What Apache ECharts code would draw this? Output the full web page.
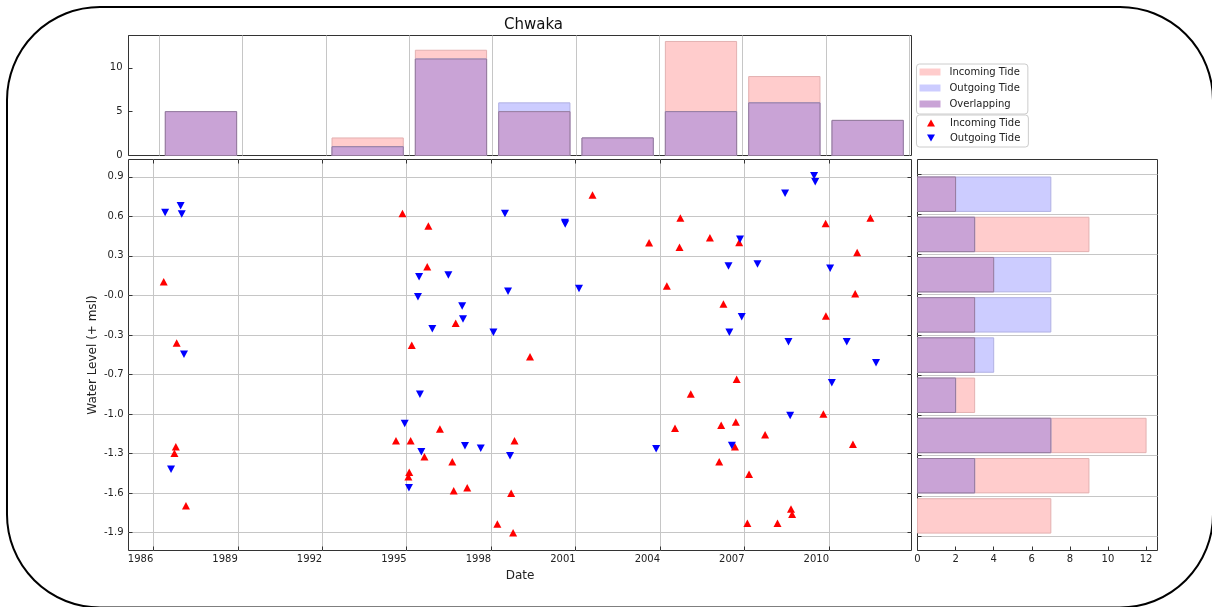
<!DOCTYPE html>
<html>
<head>
<meta charset="utf-8">
<script src="https://cdn.jsdelivr.net/npm/echarts@6/dist/echarts.min.js"></script>
<style>
html,body{margin:0;padding:0;background:#fff;}
#chart{width:1212px;height:607px;}
</style>
</head>
<body>
<div id="chart"></div>
<script>
// ---- data ----
// scatter points: [decimal year, water level]
const incomingTide = [
  [1986.37, 0.074], [1986.83, -0.408], [1986.80, -1.223], [1986.75, -1.275], [1987.16, -1.688],
  [1994.62, -1.176], [1994.85, 0.612],
  [1995.77, 0.512], [1995.73, 0.192], [1996.74, -0.253], [1995.18, -0.426], [1995.14, -1.176],
  [1996.18, -1.084], [1995.63, -1.302], [1995.09, -1.425], [1995.06, -1.459], [1996.62, -1.341],
  [1996.67, -1.569], [1997.15, -1.546],
  [1999.38, -0.516], [1998.22, -1.831], [1998.78, -1.900], [1998.71, -1.590], [1998.83, -1.176],
  [2001.60, 0.756], [2003.61, 0.381],
  [2004.72, 0.575], [2004.69, 0.345], [2005.77, 0.420], [2006.81, 0.384], [2004.24, 0.040],
  [2006.25, -0.101], [2006.72, -0.693], [2005.09, -0.809], [2004.53, -1.079], [2006.17, -1.055],
  [2006.69, -1.029], [2006.66, -1.223], [2006.10, -1.341],
  [2007.16, -1.441], [2007.73, -1.129], [2008.65, -1.713], [2008.69, -1.755], [2007.10, -1.826],
  [2008.17, -1.826], [2009.80, -0.966], [2009.89, -0.195], [2009.88, 0.533],
  [2011.47, 0.575], [2011.00, 0.305], [2010.93, -0.020], [2010.85, -1.205]
];
const outgoingTide = [
  [1986.42, 0.620], [1986.97, 0.672], [1987.01, 0.607], [1987.09, -0.497], [1986.63, -1.401],
  [1994.93, -1.040],
  [1995.44, 0.114], [1996.48, 0.127], [1995.40, -0.044], [1996.97, -0.117], [1997.00, -0.219],
  [1995.91, -0.295], [1995.47, -0.811], [1995.52, -1.263], [1997.07, -1.216], [1997.63, -1.236],
  [1995.08, -1.546],
  [1998.49, 0.612], [2000.62, 0.540], [2000.63, 0.528], [1998.60, 0.000], [1998.08, -0.324],
  [1998.67, -1.295],
  [2001.12, 0.022], [2003.86, -1.239],
  [2006.84, 0.408], [2006.43, 0.198], [2006.46, -0.324], [2006.55, -1.213], [2006.90, -0.201],
  [2007.46, 0.213], [2008.44, 0.770], [2009.47, 0.908], [2009.51, 0.861], [2008.56, -0.398],
  [2008.62, -0.978],
  [2010.04, 0.180], [2010.63, -0.398], [2011.67, -0.563], [2010.10, -0.720]
];

// histogram over date (top panel)
const timeBinEdges = [1986.213, 1989.173, 1992.133, 1995.093, 1998.053, 2001.013, 2003.973, 2006.933, 2009.893, 2012.853];
const incomingPerTimeBin = [5, 0, 2, 12, 5, 2, 13, 9, 4];
const outgoingPerTimeBin = [5, 0, 1, 11, 6, 2, 5, 6, 4];
const overlapPerTimeBin  = [5, 0, 1, 11, 5, 2, 5, 6, 4];

// histogram over water level (right panel), bins from low to high
const levelBinEdges = [-1.926, -1.6097, -1.2933, -0.977, -0.6607, -0.3443, -0.028, 0.2883, 0.6047, 0.921];
const incomingPerLevelBin = [7, 9, 12, 3, 3, 3, 4, 9, 2];
const outgoingPerLevelBin = [0, 3, 7, 2, 4, 7, 7, 3, 7];
const overlapPerLevelBin  = [0, 3, 7, 2, 3, 3, 4, 3, 2];

// tick values / labels
const yearTicks = [1986, 1989, 1992, 1995, 1998, 2001, 2004, 2007, 2010];
const levelTicks = [0.9, 0.5889, 0.2778, -0.0333, -0.3444, -0.6556, -0.9667, -1.2778, -1.5889, -1.9];
const levelTickLabels = ['0.9', '0.6', '0.3', '-0.0', '-0.3', '-0.7', '-1.0', '-1.3', '-1.6', '-1.9'];

// ---- styling ----
const FONT = 'DejaVu Sans';
const TXT = '#222';
const SPINE = '#333';
const GRIDC = '#c6c6c6';
const PINK = '#ffcccc', PINK_E = '#e3b1b1';
const BLUE = '#ccccff', BLUE_E = '#b1b1e3';
const PURP = '#c9a3d6', PURP_E = '#947a9c';
const RW = 0.855;

function toBins(edges, counts) {
  return counts.map((c, i) => [edges[i], edges[i + 1], c]);
}
function vHist(fill, stroke) {
  return function (params, api) {
    const a = api.value(0), b = api.value(1), c = api.value(2);
    if (!(c > 0)) return null;
    const pad = (b - a) * (1 - RW) / 2;
    const p0 = api.coord([a + pad, c]);
    const p1 = api.coord([b - pad, 0]);
    return { type: 'rect', shape: { x: p0[0], y: p0[1], width: p1[0] - p0[0], height: p1[1] - p0[1] },
      style: { fill: fill, stroke: stroke, lineWidth: 1 } };
  };
}
function hHist(fill, stroke) {
  return function (params, api) {
    const a = api.value(0), b = api.value(1), c = api.value(2);
    if (!(c > 0)) return null;
    const pad = (b - a) * (1 - RW) / 2;
    const p0 = api.coord([0, b - pad]);
    const p1 = api.coord([c, a + pad]);
    return { type: 'rect', shape: { x: p0[0], y: p0[1], width: p1[0] - p0[0], height: p1[1] - p0[1] },
      style: { fill: fill, stroke: stroke, lineWidth: 1 } };
  };
}
function levelLabel(v) {
  let best = 0, d = 1e9;
  levelTicks.forEach((t, i) => { if (Math.abs(t - v) < d) { d = Math.abs(t - v); best = i; } });
  return levelTickLabels[best];
}

const X_MIN = 1985.119, X_MAX = 2012.930;
const Y_MIN = -2.04, Y_MAX = 1.036;

const tickStyle = { show: true, inside: true, length: 4, lineStyle: { color: SPINE, width: 1 } };
const labelBase = { color: TXT, fontFamily: FONT, fontSize: 10 };
const noLine = { show: false, onZero: false };

const chart = echarts.init(document.getElementById('chart'), null, { renderer: 'canvas' });
chart.setOption({
  animation: false,
  backgroundColor: '#fff',
  textStyle: { fontFamily: FONT },
  title: {
    text: 'Chwaka', left: 499, top: 13,
    textStyle: { fontFamily: FONT, fontSize: 15, fontWeight: 'normal', color: '#111' }
  },
  grid: [
    { left: 128.5, top: 35.5, width: 783, height: 120, show: true, borderColor: SPINE, borderWidth: 1, backgroundColor: 'transparent' },
    { left: 128.5, top: 159.5, width: 783, height: 391, show: true, borderColor: SPINE, borderWidth: 1, backgroundColor: 'transparent' },
    { left: 917.5, top: 159.5, width: 240, height: 391, show: true, borderColor: SPINE, borderWidth: 1, backgroundColor: 'transparent' }
  ],
  xAxis: [
    { gridIndex: 0, type: 'value', min: X_MIN, max: X_MAX, position: 'bottom',
      axisLine: noLine, axisLabel: { show: false },
      axisTick: { show: false, customValues: timeBinEdges },
      splitLine: { show: true, lineStyle: { color: GRIDC, width: 1 } } },
    { gridIndex: 1, type: 'value', min: X_MIN, max: X_MAX, position: 'bottom',
      name: 'Date', nameLocation: 'middle', nameGap: 18,
      nameTextStyle: { fontFamily: FONT, fontSize: 12, color: TXT },
      axisLine: noLine,
      axisTick: Object.assign({ customValues: yearTicks }, tickStyle),
      axisLabel: Object.assign({ customValues: yearTicks, margin: 4, align: 'right',
        formatter: v => String(Math.round(v)) }, labelBase),
      splitLine: { show: true, lineStyle: { color: GRIDC, width: 1 } } },
    { gridIndex: 1, type: 'value', min: X_MIN, max: X_MAX, position: 'top',
      axisLine: noLine, axisLabel: { show: false },
      axisTick: Object.assign({ customValues: yearTicks }, tickStyle),
      splitLine: { show: false } },
    { gridIndex: 2, type: 'value', min: 0, max: 12.6, interval: 2, position: 'bottom',
      axisLine: noLine,
      axisTick: tickStyle,
      axisLabel: Object.assign({ margin: 4, showMaxLabel: false,
        formatter: v => (v <= 12 ? String(v) : '') }, labelBase),
      splitLine: { show: false } }
  ],
  yAxis: [
    { gridIndex: 0, type: 'value', min: 0, max: 13.68, interval: 5, position: 'left',
      axisLine: noLine,
      axisTick: tickStyle,
      axisLabel: Object.assign({ margin: 6, formatter: v => (v <= 10 ? String(v) : '') }, labelBase),
      splitLine: { show: false } },
    { gridIndex: 1, type: 'value', min: Y_MIN, max: Y_MAX, position: 'left',
      name: 'Water Level (+ msl)', nameLocation: 'middle', nameGap: 30, nameRotate: 90,
      nameMoveOverlap: false,
      nameTextStyle: { fontFamily: FONT, fontSize: 12, color: TXT },
      axisLine: noLine,
      axisTick: Object.assign({ customValues: levelTicks }, tickStyle),
      axisLabel: Object.assign({ customValues: levelTicks, margin: 5, formatter: levelLabel }, labelBase),
      splitLine: { show: true, lineStyle: { color: GRIDC, width: 1 } } },
    { gridIndex: 1, type: 'value', min: Y_MIN, max: Y_MAX, position: 'right',
      axisLine: noLine, axisLabel: { show: false },
      axisTick: Object.assign({ customValues: levelTicks }, tickStyle),
      splitLine: { show: false } },
    { gridIndex: 2, type: 'value', min: Y_MIN, max: Y_MAX, position: 'left',
      axisLine: noLine, axisLabel: { show: false },
      axisTick: Object.assign({ customValues: levelBinEdges }, tickStyle),
      splitLine: { show: true, lineStyle: { color: GRIDC, width: 1 } } }
  ],
  legend: [
    { left: 916.5, top: 64, orient: 'vertical', selectedMode: false,
      itemWidth: 21, itemHeight: 7, itemGap: 2, padding: [1, 8, 3, 3],
      backgroundColor: '#fff', borderColor: '#cccccc', borderWidth: 1, borderRadius: 3,
      textStyle: { fontFamily: FONT, fontSize: 10, color: TXT, lineHeight: 14, padding: [0, 0, 0, 4] },
      data: [
        { name: 'Incoming Tide', icon: 'rect', itemStyle: { color: PINK, borderWidth: 0 } },
        { name: 'Outgoing Tide', icon: 'rect', itemStyle: { color: BLUE, borderWidth: 0 } },
        { name: 'Overlapping', icon: 'rect', itemStyle: { color: PURP, borderWidth: 0 } }
      ] },
    { left: 916.5, top: 115, orient: 'vertical', selectedMode: false,
      itemWidth: 8, itemHeight: 7.5, itemGap: 1, padding: [1, 8, 2, 10.5],
      backgroundColor: '#fff', borderColor: '#cccccc', borderWidth: 1, borderRadius: 3,
      textStyle: { fontFamily: FONT, fontSize: 10, color: TXT, lineHeight: 14, padding: [0, 0, 0, 10] },
      data: [
        { name: 'Incoming Tide', icon: 'path://M5,0L10,9L0,9Z', itemStyle: { color: '#ff0000', borderWidth: 0 } },
        { name: 'Outgoing Tide', icon: 'path://M0,0L10,0L5,9Z', itemStyle: { color: '#0000ff', borderWidth: 0 } }
      ] }
  ],
  series: [
    { name: 'Incoming Tide', type: 'custom', xAxisIndex: 0, yAxisIndex: 0,
      renderItem: vHist(PINK, PINK_E), data: toBins(timeBinEdges, incomingPerTimeBin), encode: { x: [0, 1], y: 2 }, z: 2 },
    { name: 'Outgoing Tide', type: 'custom', xAxisIndex: 0, yAxisIndex: 0,
      renderItem: vHist(BLUE, BLUE_E), data: toBins(timeBinEdges, outgoingPerTimeBin), encode: { x: [0, 1], y: 2 }, z: 2 },
    { name: 'Overlapping', type: 'custom', xAxisIndex: 0, yAxisIndex: 0,
      renderItem: vHist(PURP, PURP_E), data: toBins(timeBinEdges, overlapPerTimeBin), encode: { x: [0, 1], y: 2 }, z: 3 },
    { name: 'Incoming Tide', type: 'custom', xAxisIndex: 3, yAxisIndex: 3,
      renderItem: hHist(PINK, PINK_E), data: toBins(levelBinEdges, incomingPerLevelBin), encode: { x: 2, y: [0, 1] }, z: 2 },
    { name: 'Outgoing Tide', type: 'custom', xAxisIndex: 3, yAxisIndex: 3,
      renderItem: hHist(BLUE, BLUE_E), data: toBins(levelBinEdges, outgoingPerLevelBin), encode: { x: 2, y: [0, 1] }, z: 2 },
    { name: 'Overlapping', type: 'custom', xAxisIndex: 3, yAxisIndex: 3,
      renderItem: hHist(PURP, PURP_E), data: toBins(levelBinEdges, overlapPerLevelBin), encode: { x: 2, y: [0, 1] }, z: 3 },
    { name: 'Incoming Tide', type: 'scatter', xAxisIndex: 1, yAxisIndex: 1,
      symbol: 'triangle', symbolSize: [8, 7.5], itemStyle: { color: '#ff0000', opacity: 1 },
      data: incomingTide, z: 4 },
    { name: 'Outgoing Tide', type: 'scatter', xAxisIndex: 1, yAxisIndex: 1,
      symbol: 'triangle', symbolRotate: 180, symbolSize: [8, 7.5], itemStyle: { color: '#0000ff', opacity: 1 },
      data: outgoingTide, z: 5 }
  ],
  graphic: [
    { type: 'rect', silent: true, z: 100,
      shape: { x: 7, y: 7, width: 1206, height: 600.5, r: 93 },
      style: { fill: 'none', stroke: '#000', lineWidth: 2 } }
  ]
});
</script>
</body>
</html>
